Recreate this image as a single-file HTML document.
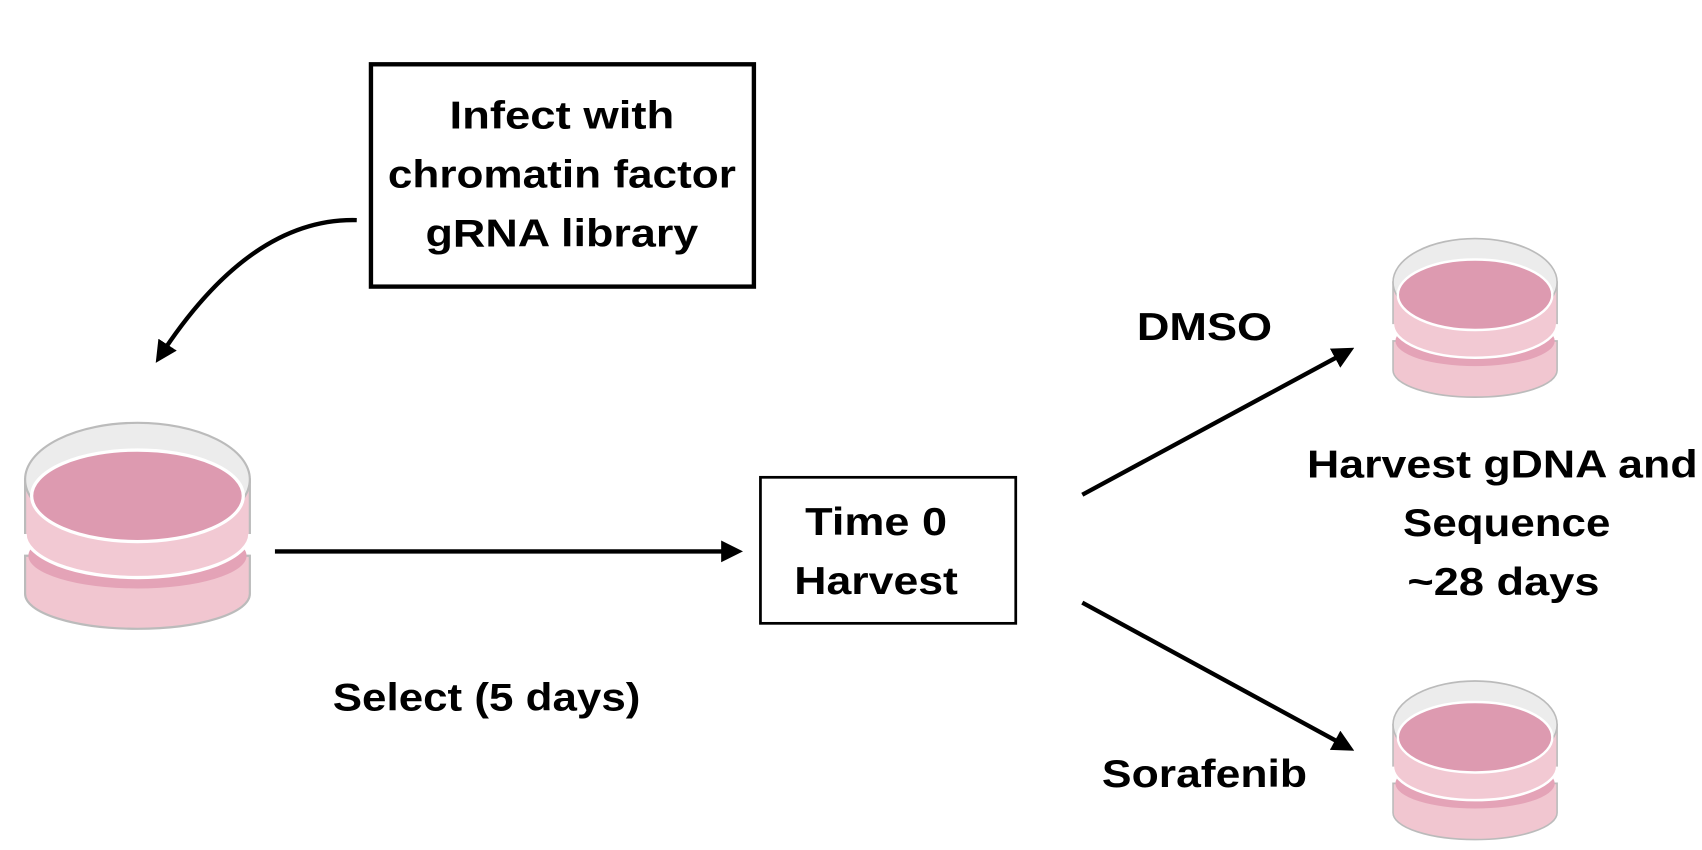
<!DOCTYPE html>
<html><head><style>html,body{margin:0;padding:0;background:#fff}svg{display:block}</style></head>
<body>
<svg width="1702" height="850" viewBox="0 0 1560 780" preserveAspectRatio="none" xmlns="http://www.w3.org/2000/svg">
<defs>
<marker id="ah" markerWidth="5" markerHeight="5" refX="3.5" refY="2.5" orient="auto" markerUnits="strokeWidth">
<path d="M0,0 L5,2.5 L0,5 z" fill="#000"/></marker>
<g id="dish">
 <path d="M-103,5 L-103,40 A103,32 0 0 0 103,40 L103,5 Z" fill="#f1c6d0" stroke="#bbb" stroke-width="2"/>
 <ellipse cx="0" cy="5" rx="100" ry="30" fill="#e4a3b7"/>
 <path d="M-103,-65 L-103,-15 A103,40 0 0 0 103,-15 L103,-65 Z" fill="#f2c9d3" stroke="#bbb" stroke-width="2"/>
 <path d="M-103,-15 A103,40 0 0 0 103,-15" fill="none" stroke="#fff" stroke-width="3"/>
 <ellipse cx="0" cy="-65" rx="103" ry="52" fill="#ececec" stroke="#bbb" stroke-width="2"/>
 <ellipse cx="0" cy="-50" rx="97" ry="42" fill="#dd9ab0" stroke="#fff" stroke-width="3"/>
</g>
</defs>
<use href="#dish" transform="translate(126,505)"/>
<use href="#dish" transform="translate(1352,309) scale(0.73,0.77)"/>
<use href="#dish" transform="translate(1352,715) scale(0.73,0.77)"/>

<rect x="340" y="59" width="351" height="204" fill="none" stroke="#000" stroke-width="4"/>
<rect x="697" y="438" width="234" height="134" fill="none" stroke="#000" stroke-width="2.5"/>

<g stroke="#000" stroke-width="4" fill="none" marker-end="url(#ah)">
<line x1="252" y1="506" x2="675" y2="506"/>
<line x1="992" y1="454" x2="1236" y2="322"/>
<line x1="992" y1="553" x2="1236" y2="686"/>
<path d="M327,202 C250,200 190,260 146,328"/>
</g>

<g font-family="Liberation Sans, sans-serif" font-weight="bold" font-size="36" text-anchor="middle" fill="#000" lengthAdjust="spacingAndGlyphs">
<text x="515" y="118" textLength="206" lengthAdjust="spacingAndGlyphs">Infect with</text>
<text x="515" y="172" textLength="319" lengthAdjust="spacingAndGlyphs">chromatin factor</text>
<text x="515" y="226" textLength="250" lengthAdjust="spacingAndGlyphs">gRNA library</text>
<text x="803" y="491" textLength="130" lengthAdjust="spacingAndGlyphs">Time 0</text>
<text x="803" y="545" textLength="150" lengthAdjust="spacingAndGlyphs">Harvest</text>
<text x="446" y="652" textLength="282" lengthAdjust="spacingAndGlyphs">Select (5 days)</text>
<text x="1104" y="312" textLength="124" lengthAdjust="spacingAndGlyphs">DMSO</text>
<text x="1377" y="438" textLength="358" lengthAdjust="spacingAndGlyphs">Harvest gDNA and</text>
<text x="1381" y="492" textLength="190" lengthAdjust="spacingAndGlyphs">Sequence</text>
<text x="1378" y="546" textLength="176" lengthAdjust="spacingAndGlyphs">~28 days</text>
<text x="1104" y="722" textLength="188" lengthAdjust="spacingAndGlyphs">Sorafenib</text>
</g>
</svg>
</body></html>
